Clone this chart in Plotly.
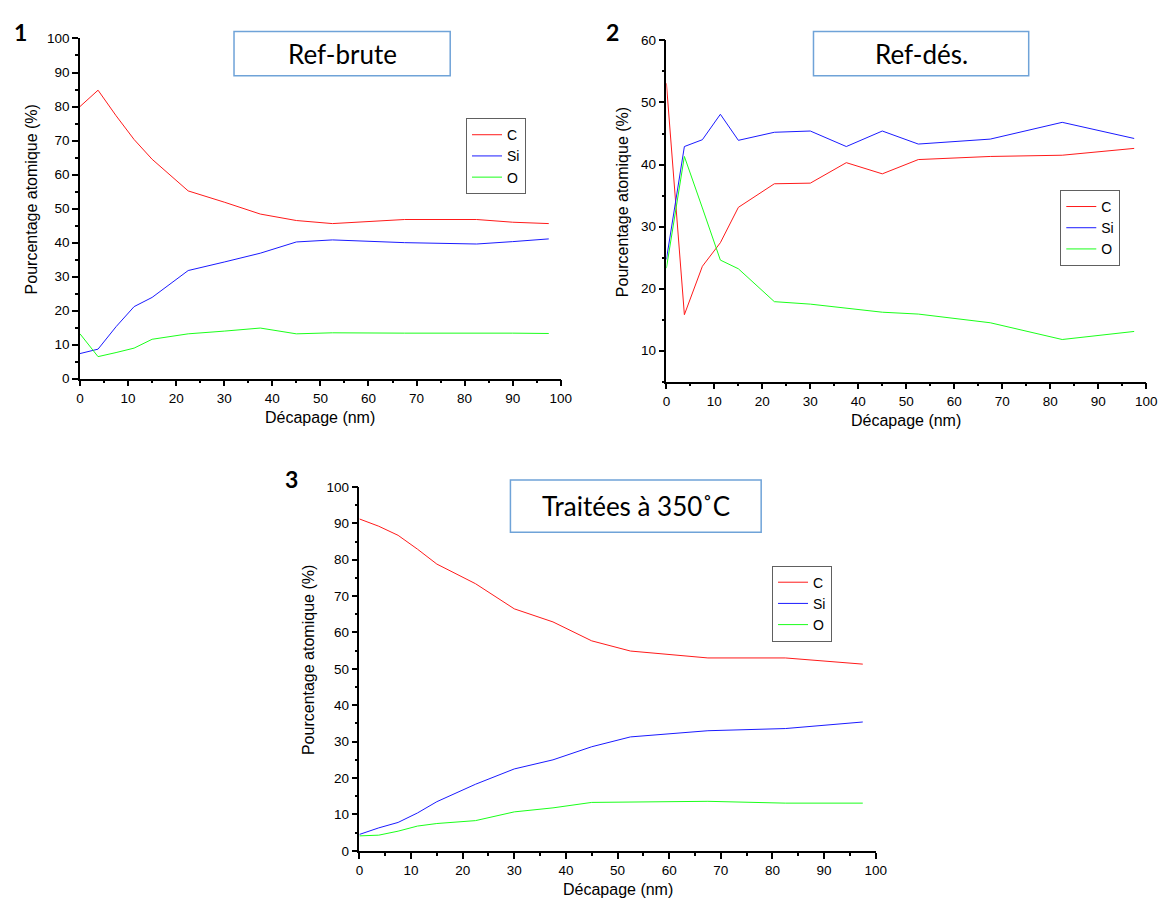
import plotly.graph_objects as go

W, H = 1170, 907

# ---------------- data ----------------
depth_1 = [0, 3.75, 7.5, 11.25, 15, 22.5, 30, 37.5, 45, 52.5, 67.5, 82.5, 90, 97.5]
c_1 = [80.0, 84.8, 77.3, 70.3, 64.5, 55.2, 51.9, 48.4, 46.5, 45.6, 46.8, 46.8, 46.0, 45.6]
si_1 = [7.4, 8.7, 15.3, 21.2, 23.9, 31.8, 34.3, 36.9, 40.2, 40.8, 40.0, 39.6, 40.3, 41.1]
o_1 = [13.2, 6.5, 7.7, 9.0, 11.6, 13.2, 14.0, 14.9, 13.2, 13.5, 13.4, 13.5, 13.4, 13.3]

depth_2 = [0, 3.75, 7.5, 11.25, 15, 22.5, 30, 37.5, 45, 52.5, 67.5, 82.5, 97.5]
c_2 = [53.1, 15.8, 23.6, 27.4, 33.1, 36.9, 37.0, 40.3, 38.5, 40.8, 41.3, 41.5, 42.6]
si_2 = [24.7, 42.9, 44.0, 48.1, 43.9, 45.2, 45.4, 42.9, 45.4, 43.3, 44.1, 46.8, 44.2]
o_2 = [23.3, 41.3, 33.0, 24.6, 23.2, 17.9, 17.5, 16.8, 16.2, 15.9, 14.5, 11.8, 13.1]

depth_3 = [0, 3.75, 7.5, 11.25, 15, 22.5, 30, 37.5, 45, 52.5, 67.5, 82.5, 97.5]
c_3 = [91.2, 89.2, 86.7, 82.9, 78.8, 73.4, 66.5, 62.9, 57.7, 54.9, 53.0, 53.0, 51.3]
si_3 = [4.5, 6.3, 7.8, 10.4, 13.5, 18.3, 22.5, 25.0, 28.6, 31.3, 33.0, 33.6, 35.4]
o_3 = [4.1, 4.3, 5.4, 6.8, 7.5, 8.3, 10.7, 11.8, 13.3, 13.4, 13.6, 13.1, 13.1]

series_names = ["C", "Si", "O"]
panel_titles = ["Ref-brute", "Ref-dés.", "Traitées à 350˚C"]
panel_numbers = ["1", "2", "3"]
x_title = "Décapage (nm)"
y_title = "Pourcentage atomique (%)"

# ---------------- helpers (page pixel -> paper) ----------------
def fx(p):
    return p / W

def fy(p):
    return 1 - p / H

colors = {"C": "#ff1a1a", "Si": "#1a1aff", "O": "#1aff1a"}
TICKFONT = dict(family="Liberation Sans, Arial, sans-serif", size=13.5, color="black")
LABFONT = dict(family="Liberation Sans, Arial, sans-serif", size=16, color="black")
BOXFONT = dict(family="Lato, sans-serif", size=26, color="black")
NUMFONT = dict(family="Lato, sans-serif", size=23, color="black")

panels = [
    dict(x=depth_1, ys=[c_1, si_1, o_1], dx=(77, 564), dy=(32, 378), yr=[0, 100],
         legend="legend", leg=(468, 113), box=(233, 452, 25, 70), num=(17, 25),
         ytitle_x=28),
    dict(x=depth_2, ys=[c_2, si_2, o_2], dx=(671, 1157), dy=(34, 381), yr=[5, 60],
         legend="legend2", leg=(1070, 186), box=(820, 1038, 25, 70), num=(616, 25),
         ytitle_x=626),
    dict(x=depth_3, ys=[c_3, si_3, o_3], dx=(360, 883), dy=(488, 858), yr=[0, 100],
         legend="legend3", leg=(778, 568), box=(513, 767, 481, 534), num=(291, 480),
         ytitle_x=308),
]

fig = go.Figure()
layout = dict(
    width=W, height=H, margin=dict(l=0, r=0, t=0, b=0),
    paper_bgcolor="white", plot_bgcolor="white",
    showlegend=True, shapes=[], annotations=[],
)

for i, p in enumerate(panels):
    n = "" if i == 0 else str(i + 1)
    for name, ys in zip(series_names, p["ys"]):
        fig.add_trace(go.Scatter(
            x=p["x"], y=ys, mode="lines", name=name,
            line=dict(color=colors[name], width=1),
            xaxis="x" + n, yaxis="y" + n, legend=p["legend"],
            hoverinfo="x+y+name",
        ))
    common = dict(
        showline=True, linecolor="black", linewidth=1.5, mirror=False,
        ticks="outside", ticklen=6, tickwidth=1.5, tickcolor="black",
        showgrid=False, zeroline=False, tickfont=TICKFONT,
        tick0=0, dtick=10,
        minor=dict(ticks="outside", ticklen=3, tickwidth=1.5, tickcolor="black",
                   dtick=5, tick0=0, showgrid=False),
    )
    layout["xaxis" + n] = dict(common, range=[0, 100], anchor="y" + n,
                               domain=[fx(p["dx"][0]), fx(p["dx"][1])])
    layout["yaxis" + n] = dict(common, range=p["yr"], anchor="x" + n,
                               domain=[fy(p["dy"][1]), fy(p["dy"][0])])
    layout[p["legend"]] = dict(
        x=fx(p["leg"][0]), y=fy(p["leg"][1]), xanchor="left", yanchor="top",
        bordercolor="#606060", borderwidth=1, bgcolor="white",
        font=dict(family="Liberation Sans, Arial, sans-serif", size=14, color="black"),
        itemwidth=30, tracegroupgap=0, traceorder="normal",
    )
    bx0, bx1, by0, by1 = p["box"]
    layout["shapes"].append(dict(
        type="rect", xref="paper", yref="paper",
        x0=fx(bx0), x1=fx(bx1), y0=fy(by1), y1=fy(by0),
        line=dict(color="#6fa3d8", width=1.5), fillcolor="white", layer="above",
    ))
    layout["annotations"].append(dict(
        text=panel_titles[i], xref="paper", yref="paper",
        x=fx((bx0 + bx1) / 2), y=fy((by0 + by1) / 2),
        xanchor="center", yanchor="middle", showarrow=False, font=BOXFONT,
    ))
    layout["annotations"].append(dict(
        text="<b>" + panel_numbers[i] + "</b>", xref="paper", yref="paper",
        x=fx(p["num"][0]), y=fy(p["num"][1]),
        xanchor="center", yanchor="middle", showarrow=False, font=NUMFONT,
    ))
    layout["annotations"].append(dict(
        text=x_title, xref="paper", yref="paper",
        x=fx((p["dx"][0] + p["dx"][1]) / 2), y=fy(p["dy"][1] + 39),
        xanchor="center", yanchor="middle", showarrow=False, font=LABFONT,
    ))
    layout["annotations"].append(dict(
        text=y_title, xref="paper", yref="paper", textangle=-90,
        x=fx(p["ytitle_x"]), y=fy((p["dy"][0] + p["dy"][1]) / 2 - 9),
        xanchor="center", yanchor="middle", showarrow=False, font=LABFONT,
    ))

fig.update_layout(**layout)
fig.write_html(
    "out.html",
    config={"displayModeBar": False},
    post_script="document.body.style.margin='0';document.body.style.overflow='hidden';",
)
